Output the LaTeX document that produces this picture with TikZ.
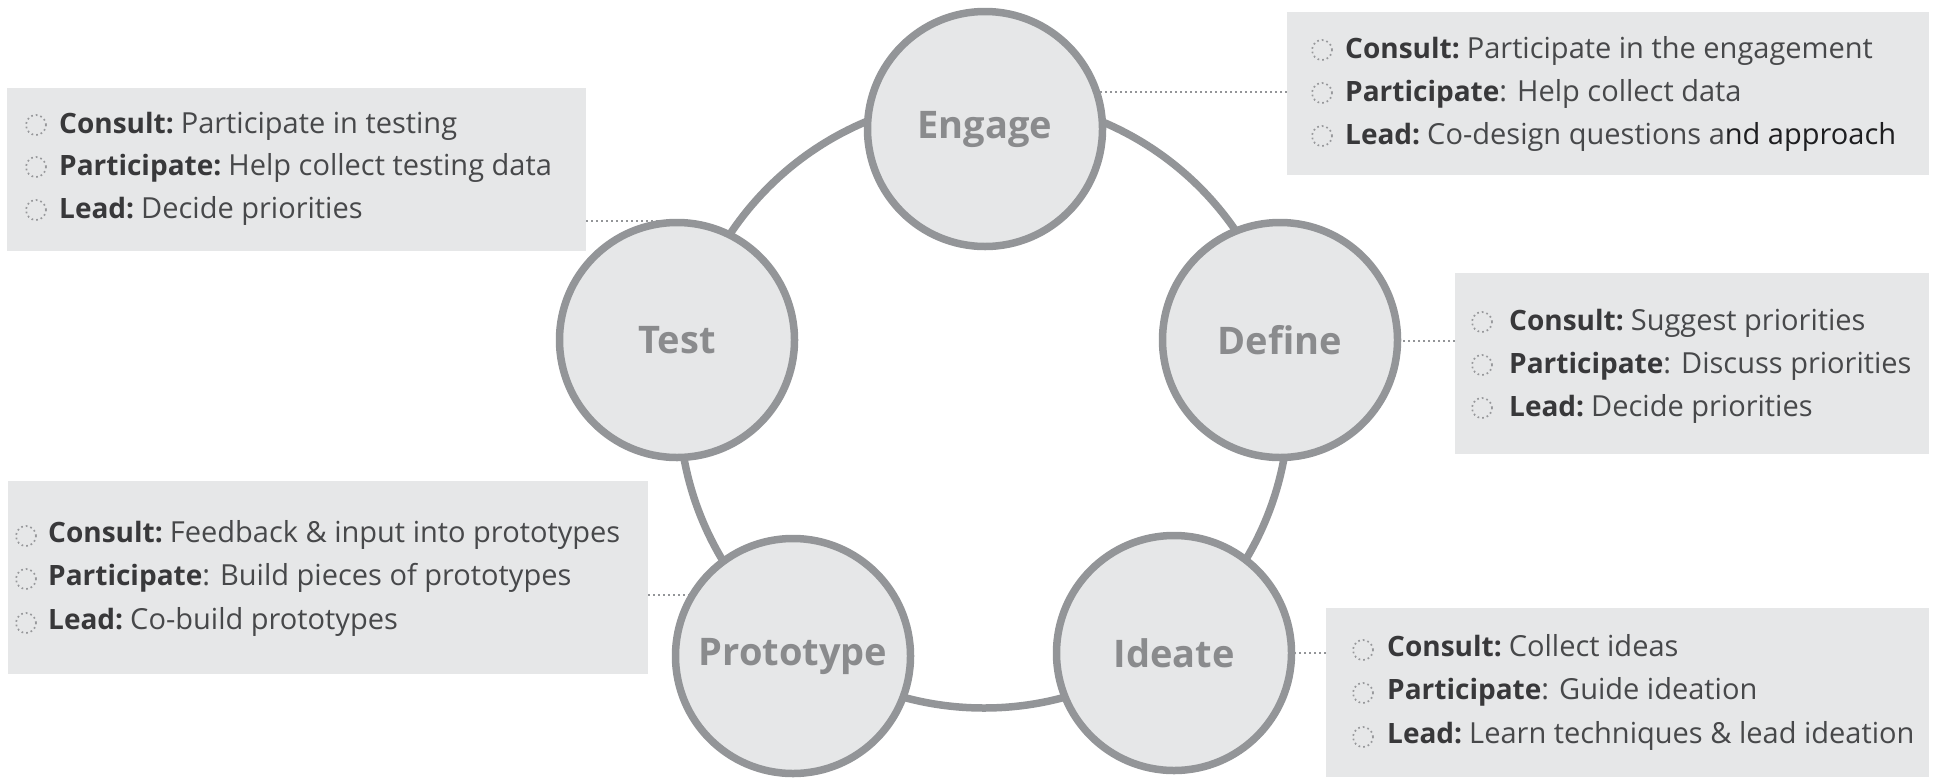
\documentclass[tikz,border=0pt]{standalone}
\usepackage{fontspec}
\setmainfont{Open Sans}
\usetikzlibrary{backgrounds}

\definecolor{panel}{HTML}{E6E7E8}
\definecolor{ringgray}{HTML}{939598}
\definecolor{labelgray}{HTML}{8A8B8D}
\definecolor{bodytext}{HTML}{47484A}
\definecolor{headtext}{HTML}{38383A}
\definecolor{darktext}{HTML}{1E1E20}
\definecolor{dotgray}{HTML}{97989B}

% role labels: bold, set a touch smaller so they keep the body's rhythm
\newcommand\rolename[1]{\textcolor{headtext}{\fontsize{28}{35}\selectfont\bfseries #1}}
\newcommand\rolegap{\hspace{-3pt}}

\tikzset{
  phase/.style={circle, draw=ringgray, line width=7.5pt, fill=panel,
    minimum size=235pt, inner sep=0pt,
    font=\fontsize{38}{42}\selectfont\bfseries, text=labelgray},
  panelbox/.style={fill=panel, draw=none, anchor=north west, inner sep=0pt},
  itemtext/.style={anchor=base west, inner sep=0pt,
    font=\fontsize{29}{35}\selectfont, text=bodytext},
  bulletmark/.style={circle, draw=dotgray, line width=1.7pt,
    dash pattern=on 1.7pt off 3pt, minimum size=20pt, inner sep=0pt},
  leader/.style={draw=ringgray, line width=1.8pt, dash pattern=on 1.8pt off 3.2pt},
  ring/.style={draw=ringgray, line width=7.5pt},
}

\begin{document}
\begin{tikzpicture}[x=1pt, y=-1pt]
  \useasboundingbox (0,0) rectangle (1933,777);

  % information panels
  \node[panelbox, minimum width=579pt, minimum height=163pt] (testbox) at (7,88) {};
  \node[panelbox, minimum width=642pt, minimum height=163pt] (engbox)  at (1287,12) {};
  \node[panelbox, minimum width=474pt, minimum height=181pt] (defbox)  at (1455,273) {};
  \node[panelbox, minimum width=640pt, minimum height=193pt] (protbox) at (8,481) {};
  \node[panelbox, minimum width=603pt, minimum height=169pt] (ideabox) at (1326,608) {};

  % the cycle
  \draw[ring] (984,403) circle[radius=305pt];
  \node[phase] (engage) at (985,129) {Engage};
  \node[phase] (test)   at (677,340) {Test};
  \node[phase] (define) at (1280,340) {Define};
  \node[phase] (proto)  at (793,656) {Prototype};
  \node[phase] (ideate) at (1174,653) {Ideate};

  % Test panel
  \node[bulletmark] (tb1) at (36,125) {};
  \node[bulletmark] (tb2) at (36,167) {};
  \node[bulletmark] (tb3) at (36,210) {};
  \node[itemtext] (tt1) at (59,133) {\rolename{Consult:}\rolegap{} Participate in testing};
  \node[itemtext] (tt2) at (59,175) {\rolename{Participate:}\rolegap{} Help collect testing data};
  \node[itemtext] (tt3) at (59,218) {\rolename{Lead:}\rolegap{} Decide priorities};

  % Engage panel
  \node[bulletmark] (eb1) at (1322,50) {};
  \node[bulletmark] (eb2) at (1322,93) {};
  \node[bulletmark] (eb3) at (1322,136) {};
  \node[itemtext] (et1) at (1345,58) {\rolename{Consult:}\rolegap{} Participate in the engagement};
  \node[itemtext] (et2) at (1345,101) {\rolename{Participate}: Help collect data};
  \node[itemtext] (et3) at (1345,144) {\rolename{Lead:}\rolegap{} Co-design questions a\textcolor{darktext}{nd approach}};

  % Define panel
  \node[bulletmark] (db1) at (1482,322) {};
  \node[bulletmark] (db2) at (1482,365) {};
  \node[bulletmark] (db3) at (1482,408) {};
  \node[itemtext] (dt1) at (1509,330) {\rolename{Consult:}\rolegap{} Suggest priorities};
  \node[itemtext] (dt2) at (1509,373) {\rolename{Participate}: Discuss priorities};
  \node[itemtext] (dt3) at (1509,416) {\rolename{Lead:}\rolegap{} Decide priorities};

  % Prototype panel
  \node[bulletmark] (pb1) at (26,536) {};
  \node[bulletmark] (pb2) at (26,579) {};
  \node[bulletmark] (pb3) at (26,623) {};
  \node[itemtext] (pt1) at (48,542) {\rolename{Consult:}\rolegap{} Feedback \& input into prototypes};
  \node[itemtext] (pt2) at (48,585) {\rolename{Participate}: Build pieces of prototypes};
  \node[itemtext] (pt3) at (48,629) {\rolename{Lead:}\rolegap{} Co-build prototypes};

  % Ideate panel
  \node[bulletmark] (ib1) at (1363,650) {};
  \node[bulletmark] (ib2) at (1363,693) {};
  \node[bulletmark] (ib3) at (1363,737) {};
  \node[itemtext] (it1) at (1387,656) {\rolename{Consult:}\rolegap{} Collect ideas};
  \node[itemtext] (it2) at (1387,699) {\rolename{Participate}: Guide ideation};
  \node[itemtext] (it3) at (1387,743) {\rolename{Lead:}\rolegap{} Learn techniques \& lead ideation};

  % dotted leaders from each phase to its panel
  \coordinate (engtap)  at (1287,92);
  \coordinate (testtap) at (586,221);
  \coordinate (deftap)  at (1455,341);
  \coordinate (prottap) at (648,595);
  \coordinate (ideatap) at (1326,653);
  \begin{scope}[on background layer]
    \draw[leader] (engtap)  -- (engtap -| engage.center);
    \draw[leader] (testtap) -- (testtap -| test.center);
    \draw[leader] (deftap)  -- (deftap -| define.center);
    \draw[leader] (prottap) -- (prottap -| proto.center);
    \draw[leader] (ideatap) -- (ideatap -| ideate.center);
  \end{scope}
\end{tikzpicture}
\end{document}
